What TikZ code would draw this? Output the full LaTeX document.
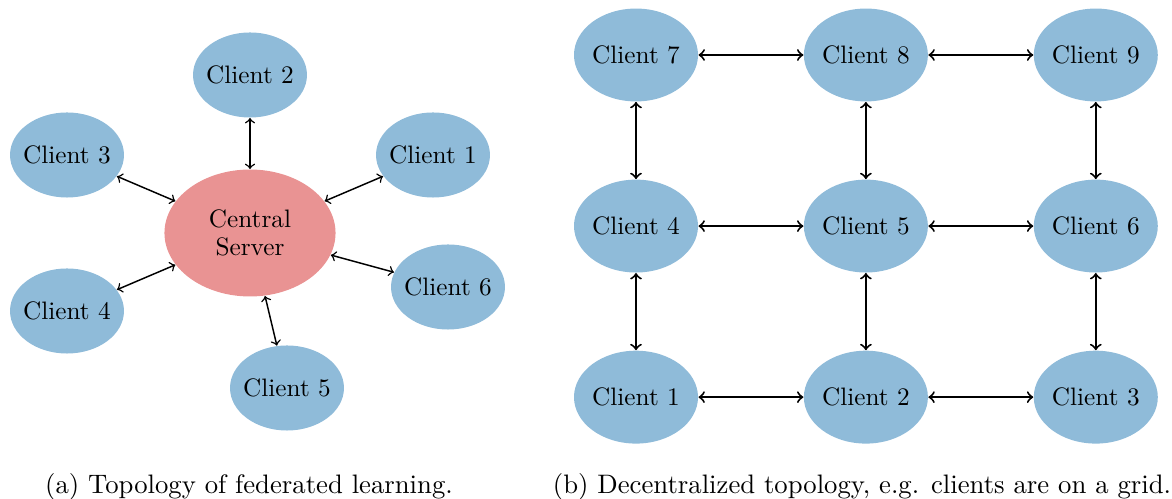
\documentclass[tikz,border=0pt]{standalone}
\usepackage{tikz}
\usetikzlibrary{arrows,positioning,shapes.geometric}
\definecolor{clientblue}{RGB}{143,187,217}
\definecolor{serverred}{RGB}{233,147,147}
\tikzset{%
	client/.style     = {ellipse, fill=clientblue, inner sep=-3pt, minimum width=46.5pt, minimum height=34.7pt, font=\fontsize{10.3}{12.4}\selectfont},
	server/.style     = {ellipse, fill=serverred, inner sep=0pt, minimum width=69.8pt, minimum height=51.8pt, align=center, font=\fontsize{10.3}{11.2}\selectfont},
	gridclient/.style = {client, minimum width=50.6pt, minimum height=37.9pt},
	link/.style       = {<->, semithick}, % star
	gridlink/.style   = {<->, thick}, % grid
	caption/.style    = {rectangle, inner sep=0pt, font=\fontsize{10.9}{13}\selectfont},
}

\begin{document}
\begin{tikzpicture}[x=0.408pt,y=-0.408pt,node distance=93.8pt]
	\useasboundingbox (0,0) rectangle (1172,499);
	
	% (a) federated
	\node [server] (cs) at (250,233) {Central\\Server};
	\node [client] (c1) at (433,155) {Client 1};
	\node [client] (c2) at (250,75) {Client 2};
	\node [client] (c3) at (67,155) {Client 3};
	\node [client] (c4) at (67,311) {Client 4};
	\node [client] (c5) at (287,388) {Client 5};
	\node [client] (c6) at (448,287) {Client 6};
	
	\foreach \i in {1,...,6}
		\draw[link] (cs) -- (c\i);
	
	% (b) grid
	\begin{scope}
	\clip (574,0) rectangle (1158,499);
	\node [gridclient] (g7) at (636,55) {Client 7};
	\node [gridclient] (g8) [right of=g7] {Client 8};
	\node [gridclient] (g9) [right of=g8] {Client 9};
	\node [gridclient] (g4) [below of=g7,node distance=69.8pt] {Client 4};
	\node [gridclient] (g5) [right of=g4] {Client 5};
	\node [gridclient] (g6) [right of=g5] {Client 6};
	\node [gridclient] (g1) [below of=g4,node distance=69.8pt] {Client 1};
	\node [gridclient] (g2) [right of=g1] {Client 2};
	\node [gridclient] (g3) [right of=g2] {Client 3};
	
	\foreach \a/\b in {g7/g8,g8/g9,g4/g5,g5/g6,g1/g2,g2/g3,g7/g4,g4/g1,g8/g5,g5/g2,g9/g6,g6/g3}
		\draw[gridlink] (\a) -- (\b);
	\end{scope}
	
	\node [caption] (capa) at (249,487) {(a) Topology of federated learning.};
	\node [caption] (capb) at (862,487) {(b) Decentralized topology, e.g. clients are on a grid.};
\end{tikzpicture}
\end{document}
